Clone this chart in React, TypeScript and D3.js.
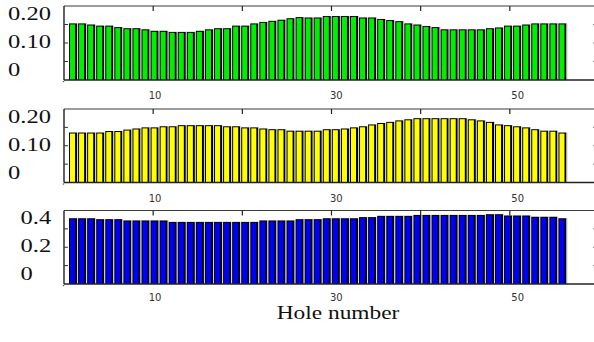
import React from "react";
import * as d3 from "d3";

// Hole numbers (categories)
const holes: number[] = [
  1, 2, 3, 4, 5, 6, 7, 8, 9, 10, 11, 12, 13, 14, 15, 16, 17, 18, 19, 20,
  21, 22, 23, 24, 25, 26, 27, 28, 29, 30, 31, 32, 33, 34, 35, 36, 37, 38, 39, 40,
  41, 42, 43, 44, 45, 46, 47, 48, 49, 50, 51, 52, 53, 54, 55,
];

const greenValues: number[] = [
  0.153, 0.153, 0.15, 0.147, 0.147, 0.143, 0.14, 0.14, 0.137, 0.133,
  0.133, 0.13, 0.13, 0.13, 0.133, 0.137, 0.14, 0.14, 0.147, 0.147,
  0.153, 0.157, 0.16, 0.163, 0.167, 0.17, 0.169, 0.169, 0.173, 0.173,
  0.173, 0.173, 0.169, 0.169, 0.165, 0.162, 0.159, 0.153, 0.15, 0.146,
  0.143, 0.137, 0.137, 0.137, 0.137, 0.137, 0.14, 0.142, 0.147, 0.147,
  0.15, 0.153, 0.153, 0.153, 0.153,
];

const yellowValues: number[] = [
  0.136, 0.136, 0.136, 0.136, 0.14, 0.14, 0.144, 0.147, 0.15, 0.15,
  0.153, 0.153, 0.156, 0.156, 0.156, 0.156, 0.156, 0.153, 0.153, 0.15,
  0.15, 0.147, 0.145, 0.145, 0.141, 0.141, 0.141, 0.141, 0.145, 0.145,
  0.147, 0.15, 0.153, 0.158, 0.162, 0.165, 0.169, 0.172, 0.175, 0.175,
  0.175, 0.175, 0.175, 0.175, 0.172, 0.169, 0.165, 0.158, 0.156, 0.153,
  0.15, 0.145, 0.141, 0.141, 0.136,
];

const blueValues: number[] = [
  0.358, 0.358, 0.358, 0.353, 0.353, 0.353, 0.346, 0.346, 0.346, 0.346,
  0.346, 0.338, 0.338, 0.338, 0.338, 0.338, 0.338, 0.338, 0.338, 0.338,
  0.338, 0.346, 0.346, 0.346, 0.346, 0.353, 0.353, 0.353, 0.358, 0.358,
  0.358, 0.358, 0.364, 0.364, 0.371, 0.371, 0.371, 0.371, 0.376, 0.376,
  0.376, 0.376, 0.376, 0.376, 0.376, 0.376, 0.38, 0.38, 0.373, 0.373,
  0.373, 0.366, 0.366, 0.366, 0.358,
];

const xTickLabels: number[] = [10, 30, 50];
const frameTicks: number[] = [10, 20, 30, 40, 50];

const smallYTicks: number[] = [0.05, 0.1, 0.15];
const smallYTicksBlue: number[] = [0.1, 0.2, 0.3];
const yLabelsSmall: { v: number; t: string }[] = [
  { v: 0.2, t: "0.20" },
  { v: 0.1, t: "0.10" },
  { v: 0, t: "0" },
];
const yLabelsBlue: { v: number; t: string }[] = [
  { v: 0.4, t: "0.4" },
  { v: 0.2, t: "0.2" },
  { v: 0, t: "0" },
];

const xTitle = "Hole number";

const W = 594;
const H = 342;
const LEFT = 64;
const RIGHT = 598;
const SERIF = "'Liberation Serif', 'Times New Roman', Times, serif";

type Panel = {
  values: number[];
  color: string;
  yMax: number;
  top: number;
  bottom: number;
  ticks: number[];
  labels: { v: number; t: string }[];
  labelX: number;
  xLabelOffset: number;
};

const panels: Panel[] = [
  { values: greenValues, color: "#00ee00", yMax: 0.2, top: 6, bottom: 80, ticks: smallYTicks, labels: yLabelsSmall, labelX: 8, xLabelOffset: 19 },
  { values: yellowValues, color: "#ffff00", yMax: 0.2, top: 109, bottom: 182.5, ticks: smallYTicks, labels: yLabelsSmall, labelX: 8, xLabelOffset: 19 },
  { values: blueValues, color: "#0000f5", yMax: 0.4, top: 210.5, bottom: 284, ticks: smallYTicksBlue, labels: yLabelsBlue, labelX: 20.5, xLabelOffset: 16.5 },
];

const xBand = d3.scaleBand<number>().domain(holes).range([69, 567.5]).padding(0);
const xFrame = d3.scaleLinear().domain([0, 60]).range([LEFT, 599]);

function PanelView({ p }: { p: Panel }) {
  const y = d3.scaleLinear().domain([0, p.yMax]).range([p.bottom, p.top]);
  const yLab = d3.scaleLinear().domain([0, p.yMax]).range([p.top + 69.5, p.top + 13.5]);
  const bw = xBand.bandwidth();
  return (
    <g>
      {/* bars */}
      {holes.map((h, i) => {
        const x0 = xBand(h) as number;
        const yt = y(p.values[i]);
        return (
          <g key={h}>
            <rect x={x0} y={yt} width={bw - 1} height={p.bottom - yt} fill="#000" />
            <rect x={x0 + 1} y={yt + 1} width={bw - 4} height={p.bottom - yt - 1} fill={p.color} />
            <rect x={x0 + bw - 1} y={yt} width={1} height={p.bottom - yt} fill="#cfcfcf" />
          </g>
        );
      })}
      {/* frame */}
      <line x1={LEFT} x2={RIGHT} y1={p.top} y2={p.top} stroke="#3a3a3a" strokeWidth={1.2} />
      <line x1={LEFT} x2={RIGHT} y1={p.bottom} y2={p.bottom} stroke="#222" strokeWidth={1.4} />
      <line x1={LEFT} x2={LEFT} y1={p.top} y2={p.bottom} stroke="#222" strokeWidth={1.4} />
      <line x1={RIGHT} x2={RIGHT} y1={p.top} y2={p.bottom} stroke="#3a3a3a" strokeWidth={1.2} />
      <circle cx={LEFT - 0.5} cy={p.bottom + 1.5} r={0.8} fill="#555" />
      {/* top ticks */}
      {frameTicks.map((t) => (
        <line key={t} x1={xFrame(t)} x2={xFrame(t)} y1={p.top} y2={p.top + 5} stroke="#222" strokeWidth={1.2} />
      ))}
      {/* left & right ticks */}
      {p.ticks.map((t) => (
        <g key={t}>
          <line x1={LEFT} x2={LEFT + 4} y1={y(t)} y2={y(t)} stroke="#333" strokeWidth={1} />
          <line x1={RIGHT - 5} x2={RIGHT} y1={y(t)} y2={y(t)} stroke="#777" strokeWidth={1} />
        </g>
      ))}
      {/* y labels */}
      {p.labels.map((l) => (
        <text
          key={l.t}
          transform={`translate(${p.labelX},${yLab(l.v)}) scale(1.32,1)`}
          fontFamily={SERIF}
          fontSize={18.6}
          fill="#111"
        >
          {l.t}
        </text>
      ))}
      {/* x labels */}
      {xTickLabels.map((t) => (
        <text
          key={t}
          x={(xBand(t) as number) + bw / 2}
          y={p.bottom + p.xLabelOffset}
          textAnchor="middle"
          fontFamily="'DejaVu Sans', sans-serif"
          fontSize={10}
          fill="#333"
        >
          {t}
        </text>
      ))}
    </g>
  );
}

export default function App() {
  return (
    <svg
      width={W}
      height={H}
      viewBox={`0 0 ${W} ${H}`}
      style={{ position: "absolute", left: 0, top: 0, background: "#fff" }}
    >
      <rect x={0} y={0} width={W} height={H} fill="#fff" />
      {panels.map((p, i) => (
        <PanelView key={i} p={p} />
      ))}
      <text
        transform={`translate(338,319) scale(1.3,1)`}
        textAnchor="middle"
        fontFamily={SERIF}
        fontSize={18}
        fill="#111"
      >
        {xTitle}
      </text>
    </svg>
  );
}
